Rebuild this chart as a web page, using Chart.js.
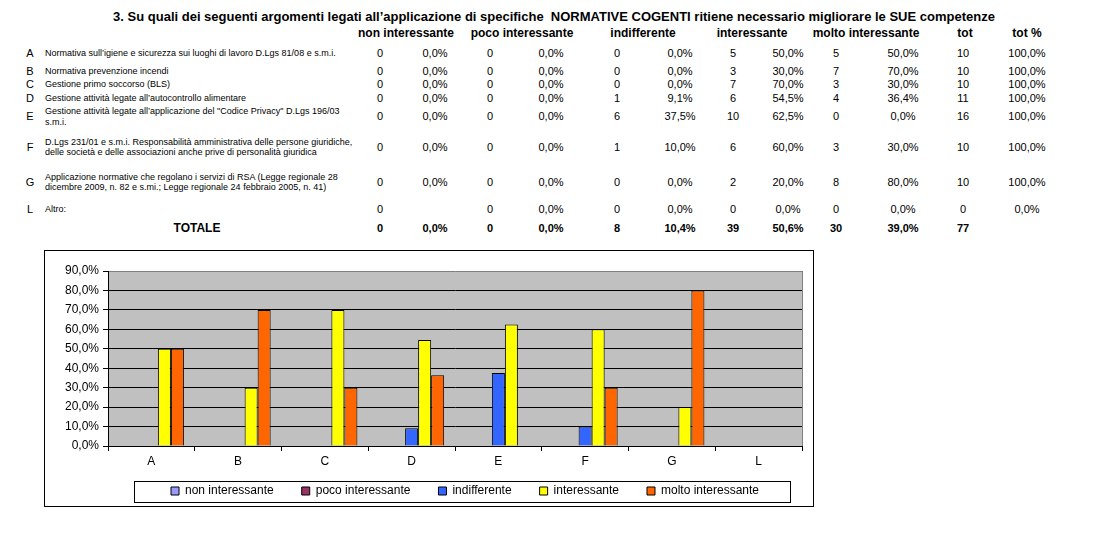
<!DOCTYPE html>
<html>
<head>
<meta charset="utf-8">
<script src="https://cdn.jsdelivr.net/npm/chart.js@4.4.1/dist/chart.umd.min.js"></script>
<style>
  body { margin: 0; background: #fff; font-family: "Liberation Sans", Arial, sans-serif; color: #000; }
  #page { position: relative; width: 1101px; height: 536px; overflow: hidden; }
  .t { position: absolute; white-space: nowrap; line-height: 1; }
  .title { font-size: 13px; font-weight: bold; }
  .head { font-size: 12px; font-weight: bold; }
  .num { font-size: 11px; }
  .tot { font-size: 11px; font-weight: bold; }
  .letter { font-size: 11px; }
  .desc { font-size: 9px; line-height: 10.5px; white-space: pre; }
  #chartBox { position: absolute; left: 44px; top: 250px; width: 770px; height: 257px; }
</style>
</head>
<body>
<div id="page">
  <div id="chartBox"><canvas id="chart"></canvas></div>
</div>
<script>
const categories = ["A", "B", "C", "D", "E", "F", "G", "L"];
const descriptions = [
  "Normativa sull’igiene e sicurezza sui luoghi di lavoro D.Lgs 81/08 e s.m.i.",
  "Normativa prevenzione incendi",
  "Gestione primo soccorso (BLS)",
  "Gestione attività legate all’autocontrollo alimentare",
  "Gestione attività legate all’applicazione del \"Codice Privacy\" D.Lgs 196/03\ns.m.i.",
  "D.Lgs 231/01 e s.m.i. Responsabilità amministrativa delle persone giuridiche,\ndelle società e delle associazioni anche prive di personalità giuridica",
  "Applicazione normative che regolano i servizi di RSA (Legge regionale 28\ndicembre 2009, n. 82 e s.mi.; Legge regionale 24 febbraio 2005, n. 41)",
  "Altro:"
];
const seriesNames = ["non interessante", "poco interessante", "indifferente", "interessante", "molto interessante"];
const seriesColors = ["#9999FF", "#993366", "#3366FF", "#FFFF00", "#FF6600"];

const nonCount = [0, 0, 0, 0, 0, 0, 0, 0];
const nonPct = [0, 0, 0, 0, 0, 0, 0, null];
const pocoCount = [0, 0, 0, 0, 0, 0, 0, 0];
const pocoPct = [0, 0, 0, 0, 0, 0, 0, 0];
const indiffCount = [0, 0, 0, 1, 6, 1, 0, 0];
const indiffPct = [0, 0, 0, 9.1, 37.5, 10, 0, 0];
const interCount = [5, 3, 7, 6, 10, 6, 2, 0];
const interPct = [50, 30, 70, 54.5, 62.5, 60, 20, 0];
const moltoCount = [5, 7, 3, 4, 0, 3, 8, 0];
const moltoPct = [50, 70, 30, 36.4, 0, 30, 80, 0];
const totCount = [10, 10, 10, 11, 16, 10, 10, 0];
const totPct = [100, 100, 100, 100, 100, 100, 100, 0];
const totalRow = [0, 0, 0, 0, 8, 10.4, 39, 50.6, 30, 39.0, 77, null];

const yTicks = [0, 10, 20, 30, 40, 50, 60, 70, 80, 90];

// table layout
const rowY = [52.5, 70.5, 84, 97.5, 116, 146.5, 181.5, 208.5];
const colX = [380, 435, 490, 551, 617, 680, 733, 788, 836, 903, 963, 1027];
const headX = [406, 522, 643, 752, 866, 965, 1027];
const headers = seriesNames.concat(["tot", "tot %"]);

const page = document.getElementById("page");
function pct(v) { return v === null ? "" : v.toFixed(1).replace(".", ",") + "%"; }
function put(text, x, y, cls, center) {
  const d = document.createElement("div");
  d.className = "t " + cls;
  d.textContent = text;
  d.style.left = x + "px";
  d.style.top = y + "px";
  d.style.transform = center ? "translate(-50%,-50%)" : "translate(0,-50%)";
  page.appendChild(d);
}

put("3. Su quali dei seguenti argomenti legati all’applicazione di specifiche \u00a0NORMATIVE COGENTI ritiene necessario migliorare le SUE competenze", 554, 16, "title", true);
headers.forEach((h, i) => put(h, headX[i], 33, "head", true));

categories.forEach((c, i) => {
  put(c, 30, rowY[i], "letter", true);
  put(descriptions[i], 45, rowY[i], "desc", false);
  const vals = [nonCount[i], pct(nonPct[i]), pocoCount[i], pct(pocoPct[i]), indiffCount[i], pct(indiffPct[i]),
    interCount[i], pct(interPct[i]), moltoCount[i], pct(moltoPct[i]), totCount[i], pct(totPct[i])];
  vals.forEach((v, j) => put(String(v), colX[j], rowY[i], "num", true));
});

put("TOTALE", 197, 228, "head", true);
totalRow.forEach((v, j) => put(j % 2 ? pct(v) : String(v), colX[j], 228, "tot", true));

// chart
Chart.defaults.font.family = "'Liberation Sans', Arial, sans-serif";
Chart.defaults.font.size = 12;
Chart.defaults.color = "#000";

const chartDeco = {
  id: "chartDeco",
  beforeDraw(chart) {
    const { ctx, chartArea: a } = chart;
    ctx.save();
    ctx.fillStyle = "#C0C0C0";
    ctx.fillRect(a.left, a.top, a.right - a.left, a.bottom - a.top);
    ctx.restore();
  },
  afterLayout(chart) {
    // legend box sits right of centre and close under the axis labels
    chart.legend.left = 99;
    chart.legend.top -= 14;
  },
  afterDraw(chart) {
    const { ctx, chartArea: a, width, height } = chart;
    ctx.save();
    ctx.lineWidth = 1;
    ctx.strokeStyle = "#808080";
    ctx.beginPath();
    ctx.moveTo(Math.round(a.right) + 0.5, a.top);
    ctx.lineTo(Math.round(a.right) + 0.5, a.bottom);
    ctx.stroke();
    ctx.strokeStyle = "#000";
    ctx.strokeRect(0.5, 0.5, width - 1, height - 1);
    const hb = chart.legend.legendHitBoxes;
    if (hb && hb.length) {
      const last = hb[hb.length - 1];
      const l = Math.round(hb[0].left - 37) + 0.5;
      const r = Math.round(last.left + last.width + 31) + 0.5;
      const t = Math.round(hb[0].top - 4) + 0.5;
      ctx.strokeRect(l, t, r - l, 21);
    }
    ctx.restore();
  }
};

new Chart(document.getElementById("chart"), {
  type: "bar",
  data: {
    labels: categories,
    datasets: [nonPct, pocoPct, indiffPct, interPct, moltoPct].map((d, i) => ({
      label: seriesNames[i],
      data: d,
      backgroundColor: seriesColors[i],
      borderColor: "#000",
      borderWidth: 1,
      borderSkipped: "start",
      barPercentage: 1,
      categoryPercentage: 0.75
    }))
  },
  options: {
    responsive: true,
    maintainAspectRatio: false,
    animation: false,
    layout: { padding: { left: 0, top: 21, right: 12, bottom: -14 } },
    plugins: {
      tooltip: { enabled: false },
      legend: {
        position: "bottom",
        align: "start",
        labels: { boxWidth: 8, boxHeight: 8, padding: 28, color: "#000", font: { size: 12 } }
      }
    },
    scales: {
      x: {
        grid: { drawOnChartArea: false, drawTicks: true, tickLength: 5, color: "#000", offset: true },
        border: { color: "#000", width: 1 },
        ticks: { padding: 3, color: "#000" },
        afterFit(scale) { scale.height = 25; }
      },
      y: {
        min: 0,
        max: 90,
        afterBuildTicks(scale) { scale.ticks = yTicks.map(v => ({ value: v })); },
        grid: {
          color: c => (c.tick && c.tick.value === 90 ? "#808080" : "#000"),
          tickColor: "#000",
          tickLength: 5
        },
        border: { color: "#000", width: 1 },
        ticks: { padding: 4, color: "#000", callback: v => v.toFixed(1).replace(".", ",") + "%" },
        afterFit(scale) { scale.width = 64; }
      }
    }
  },
  plugins: [chartDeco]
});
</script>
</body>
</html>
